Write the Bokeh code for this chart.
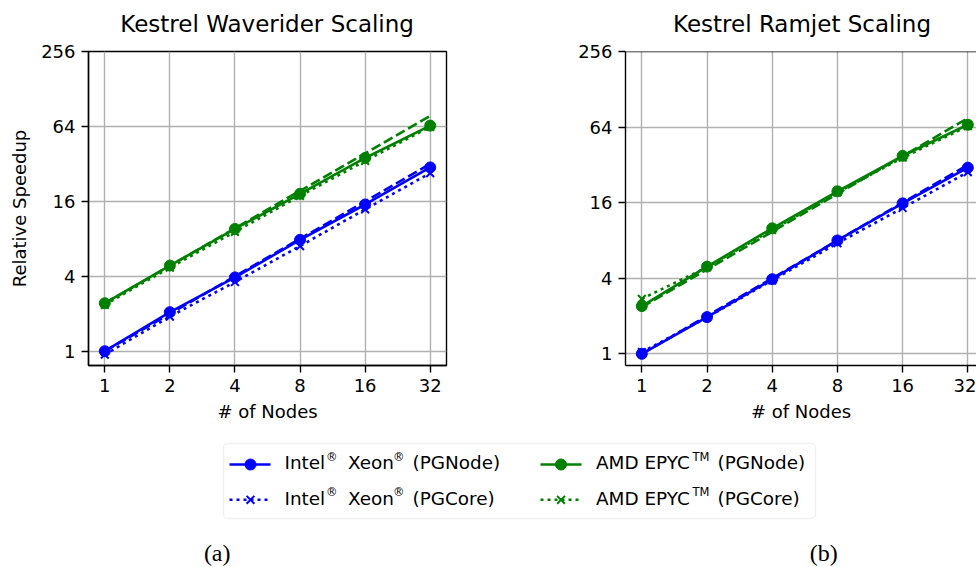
from bokeh.plotting import figure
from bokeh.layouts import row, column
from bokeh.models import Range1d, FixedTicker, NumeralTickFormatter, Span, BoxAnnotation
from bokeh.core.properties import value
from bokeh.embed import file_html
from bokeh.resources import INLINE

# ---------------- data ----------------
nodes = [1, 2, 4, 8, 16, 32]
x_ticks = [1, 2, 4, 8, 16, 32]
y_ticks = [1, 4, 16, 64, 256]

titles = ["Kestrel Waverider Scaling", "Kestrel Ramjet Scaling"]
x_label = "# of Nodes"
y_label = "Relative Speedup"
captions = ["(a)", "(b)"]

# Waverider
wave_intel_node = [1.0, 2.06, 3.92, 7.85, 15.1, 30.0]
wave_intel_core = [0.94, 1.9, 3.6, 7.0, 13.8, 27.0]
wave_intel_ideal = [1.0, 2.0, 4.0, 8.0, 16.0, 32.0]
wave_amd_node = [2.43, 4.88, 9.6, 18.4, 35.7, 65.0]
wave_amd_core = [2.36, 4.7, 9.1, 17.7, 33.8, 63.5]
wave_amd_ideal = [2.43, 4.86, 9.72, 19.44, 38.88, 77.76]

# Ramjet
ram_intel_node = [1.0, 1.96, 3.93, 8.0, 15.8, 30.4]
ram_intel_core = [1.03, 1.95, 3.85, 7.6, 14.5, 28.0]
ram_intel_ideal = [1.0, 2.0, 4.0, 8.0, 16.0, 32.0]
ram_amd_node = [2.4, 4.95, 10.0, 19.7, 37.8, 66.8]
ram_amd_core = [2.74, 4.9, 9.7, 19.3, 36.5, 65.0]
ram_amd_ideal = [2.35, 4.7, 9.4, 18.8, 37.6, 75.2]

# legend labels, split into (text, superscript?) pieces
legend_labels = [
    [("Intel", False), ("®", True), ("Xeon", False), ("®", True), ("(PGNode)", False)],
    [("Intel", False), ("®", True), ("Xeon", False), ("®", True), ("(PGCore)", False)],
    [("AMD EPYC", False), ("TM", True), ("(PGNode)", False)],
    [("AMD EPYC", False), ("TM", True), ("(PGCore)", False)],
]

# ---------------- style / layout ----------------
BLUE = "#0000ff"
GREEN = "#008000"
FONT = "DejaVu Sans"
TOP = 40          # height of the title strip
H = 438 - TOP     # height of each plot panel
LW = 2.6

def blank_strip(height):
    f = figure(width=976, height=height, x_range=Range1d(0, 976), y_range=Range1d(height, 0),
               output_backend="svg", toolbar_location=None,
               x_axis_location=None, y_axis_location=None, min_border=0)
    f.grid.visible = False
    f.outline_line_color = None
    f.background_fill_color = "white"
    f.border_fill_color = "white"
    return f

def styled_panel(width, bl, br, xr, yr, ylab):
    p = figure(width=width, height=H, x_axis_type="log", y_axis_type="log",
               x_range=Range1d(*xr), y_range=Range1d(*yr),
               output_backend="svg", toolbar_location=None,
               min_border_left=bl, min_border_right=br,
               min_border_top=51 - TOP, min_border_bottom=H + TOP - 365)
    for ax, ticks in ((p.xaxis[0], x_ticks), (p.yaxis[0], y_ticks)):
        ax.ticker = FixedTicker(ticks=ticks, minor_ticks=[])
        ax.formatter = NumeralTickFormatter(format="0")
        ax.major_label_text_font = FONT
        ax.major_label_text_font_size = "18px"
        ax.major_label_text_color = "#000000"
        ax.major_tick_in = 0
        ax.major_tick_out = 7
        ax.major_tick_line_width = 1.4
        ax.major_tick_line_color = "black"
        ax.minor_tick_line_color = None
        ax.axis_line_color = "black"
        ax.axis_line_width = 1.4
        ax.axis_label_text_font = FONT
        ax.axis_label_text_font_size = "18px"
        ax.axis_label_text_font_style = "normal"
        ax.axis_label_text_color = "#000000"
        ax.major_label_standoff = 6
    p.xaxis.axis_label = x_label
    p.xaxis.axis_label_standoff = 6
    if ylab:
        p.yaxis.axis_label = y_label
        p.yaxis.axis_label_standoff = 8
    p.grid.grid_line_color = "#b0b0b0"
    p.grid.grid_line_width = 1.4
    p.background_fill_color = "white"
    p.border_fill_color = "white"
    return p

def draw_series(p, intel_node, intel_core, intel_ideal, amd_node, amd_core, amd_ideal):
    for node, core, ideal, c in ((intel_node, intel_core, intel_ideal, BLUE),
                                 (amd_node, amd_core, amd_ideal, GREEN)):
        p.line(nodes, node, line_color=c, line_width=LW)
        p.scatter(nodes, node, marker="circle", size=11, fill_color=c, line_color=c)
        p.line(nodes, core, line_color=c, line_width=LW, line_dash="3 4")
        p.scatter(nodes, core, marker="x", size=11, line_color=c, line_width=2)
        p.line(nodes, ideal, line_color=c, line_width=LW, line_dash="10 4")

# ---------------- title strip ----------------
top = blank_strip(TOP)
top.text([266.6, 801.5], [23.4, 23.4], text=titles, text_font=value(FONT),
         text_font_size="23px", text_baseline="alphabetic", text_align="center",
         text_color="#000000")

# ---------------- plots ----------------
p1 = styled_panel(535, 88, 89, (2 ** -0.25, 2 ** 5.25), (0.768, 256), True)
p1.outline_line_color = "black"
p1.outline_line_width = 1.4
draw_series(p1, wave_intel_node, wave_intel_core, wave_intel_ideal,
            wave_amd_node, wave_amd_core, wave_amd_ideal)

p2 = styled_panel(441, 90, 0, (2 ** -0.25, 2 ** 5.133), (0.807, 256), False)
p2.outline_line_color = None
p2.add_layout(Span(location=256, dimension="width", line_color="black", line_width=1.4))
draw_series(p2, ram_intel_node, ram_intel_core, ram_intel_ideal,
            ram_amd_node, ram_amd_core, ram_amd_ideal)

# ---------------- legend + captions strip ----------------
LH = 567 - 438
leg = blank_strip(LH)
leg.add_layout(BoxAnnotation(left=223, right=815, top=5, bottom=80, level="underlay",
                             fill_color="white", fill_alpha=1.0,
                             line_color="#d0d0d0", line_width=1.4, border_radius=4))

rows_y = [26, 61.3]
base_y = [24.3, 59.6]
sup_y = [18.3, 53.6]
cols = [
    dict(x0=229, x1=270, xm=250, xs=[284, 325.5, 347.5, 392.5, 412]),
    dict(x0=540, x1=581, xm=560.5, xs=[595.5, 692, 717]),
]
series_style = [
    (BLUE, None, "circle"), (BLUE, "3 4", "x"),
    (GREEN, None, "circle"), (GREEN, "3 4", "x"),
]
for i, pieces in enumerate(legend_labels):
    col = cols[i // 2]
    r = i % 2
    color, dash, marker = series_style[i]
    ry = rows_y[r]
    if dash:
        leg.line([col["x0"], col["x1"]], [ry, ry], line_color=color, line_width=LW, line_dash=dash)
        leg.scatter([col["xm"]], [ry], marker=marker, size=11, line_color=color, line_width=2)
    else:
        leg.line([col["x0"], col["x1"]], [ry, ry], line_color=color, line_width=LW)
        leg.scatter([col["xm"]], [ry], marker=marker, size=11, fill_color=color, line_color=color)
    for (txt, sup), xx in zip(pieces, col["xs"]):
        leg.text([xx], [sup_y[r] if sup else base_y[r]], text=[txt],
                 text_font=value(FONT), text_font_size="11.5px" if sup else "18.4px",
                 text_baseline="alphabetic", text_align="left", text_color="#000000")

leg.text([216.7, 823.3], [114.5, 114.5], text=captions, text_font=value("Liberation Serif"),
         text_font_size="24px", text_baseline="middle", text_align="center",
         text_color="#000000")

layout = column(top, row(p1, p2), leg)
open("out.html", "w").write(file_html(layout, INLINE))
